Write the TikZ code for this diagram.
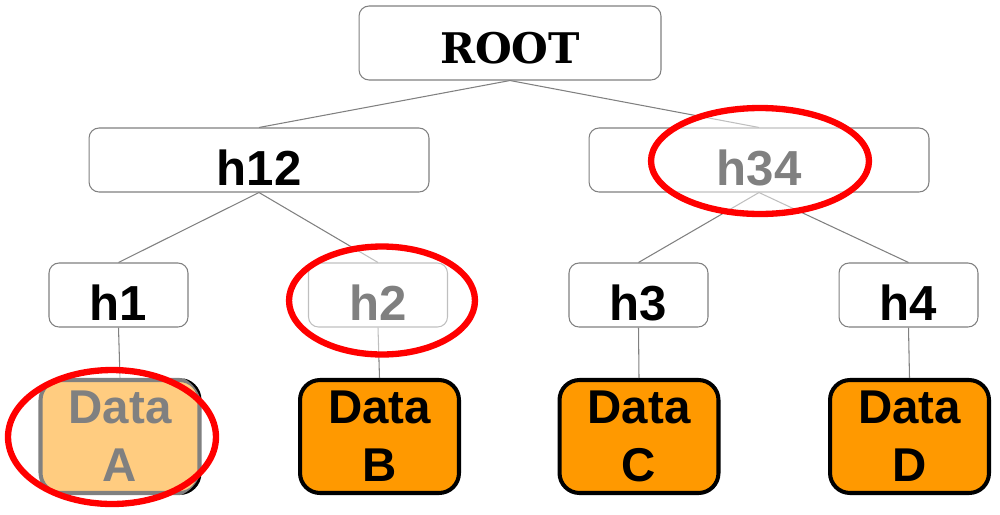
\documentclass[tikz,border=0pt]{standalone}
\usepackage{fontspec}
\setmainfont{Liberation Sans}
\newfontfamily\rootfont{DejaVu Serif}
\usetikzlibrary{positioning,calc}
\definecolor{dataorange}{RGB}{255,153,0}
\definecolor{ringred}{RGB}{255,0,0}
\definecolor{edgegrey}{RGB}{128,128,128}
\tikzset{
  hashbox/.style={draw=edgegrey, line width=0.6pt, rounded corners=0.2cm, inner sep=0pt,
    minimum height=1.28cm, font=\fontsize{28}{32}\selectfont\bfseries, text height=29pt, text depth=0pt},
  databox/.style={draw=black, line width=2.3pt, rounded corners=0.4cm, fill=dataorange, inner sep=0pt,
    minimum width=3.18cm, minimum height=2.26cm, align=center, font=\fontsize{27}{33}\selectfont\bfseries},
  link/.style={draw=edgegrey, line width=0.6pt},
  fade/.style={fill=white, fill opacity=0.5},
  ring/.style={draw=ringred, line width=3.6pt}
}
\begin{document}
\begin{tikzpicture}[x=0.02cm, y=-0.02cm]
    \useasboundingbox (0,0) rectangle (1000,514);
    % hash tree
    \node[hashbox, minimum width=6.04cm, minimum height=1.48cm, font=\rootfont\fontsize{24}{28}\selectfont\bfseries, text height=23pt] (root) at (510,43) {ROOT};
    \node[hashbox, minimum width=6.8cm] (h12) at (259,160) {h12};
    \node[hashbox, minimum width=6.8cm] (h34) at (759,160) {h34};
    \node[hashbox, minimum width=2.78cm] (h1) at (118.5,295) {h1};
    \node[hashbox, minimum width=2.78cm] (h2) at (378,295) {h2};
    \node[hashbox, minimum width=2.78cm] (h3) at (638.5,295) {h3};
    \node[hashbox, minimum width=2.78cm] (h4) at (908.5,295) {h4};
    \node[databox] (dataA) at (120,436.5) {Data\\A};
    \node[databox] (dataB) at (379.5,436.5) {Data\\B};
    \node[databox] (dataC) at (639,436.5) {Data\\C};
    \node[databox] (dataD) at (909.5,436.5) {Data\\D};

    \draw[link] (root.south) -- (h12.north);
    \draw[link] (root.south) -- (h34.north);
    \draw[link] (h12.south) -- (h1.north);
    \draw[link] (h12.south) -- (h2.north);
    \draw[link] (h34.south) -- (h3.north);
    \draw[link] (h34.south) -- (h4.north);
    \draw[link] (h1.south) -- (dataA.north);
    \draw[link] (h2.south) -- (dataB.north);
    \draw[link] (h3.south) -- (dataC.north);
    \draw[link] (h4.south) -- (dataD.north);

    % faded parts and red marks
    \fill[fade] (34,374) -- (34,498) [rounded corners=20pt] -- (202,498) -- (202,374) -- (34,374) [sharp corners] -- cycle;
    \fill[fade] (382,300.5) ellipse [x radius=1.92cm, y radius=1.14cm];
    \fill[fade] (760,161) ellipse [x radius=2.24cm, y radius=1.12cm];
    \draw[ring] (112,437) ellipse [x radius=2.08cm, y radius=1.34cm];
    \draw[ring] (382,300.5) ellipse [x radius=1.86cm, y radius=1.08cm];
    \draw[ring] (760,161) ellipse [x radius=2.18cm, y radius=1.06cm];
\end{tikzpicture}
\end{document}
